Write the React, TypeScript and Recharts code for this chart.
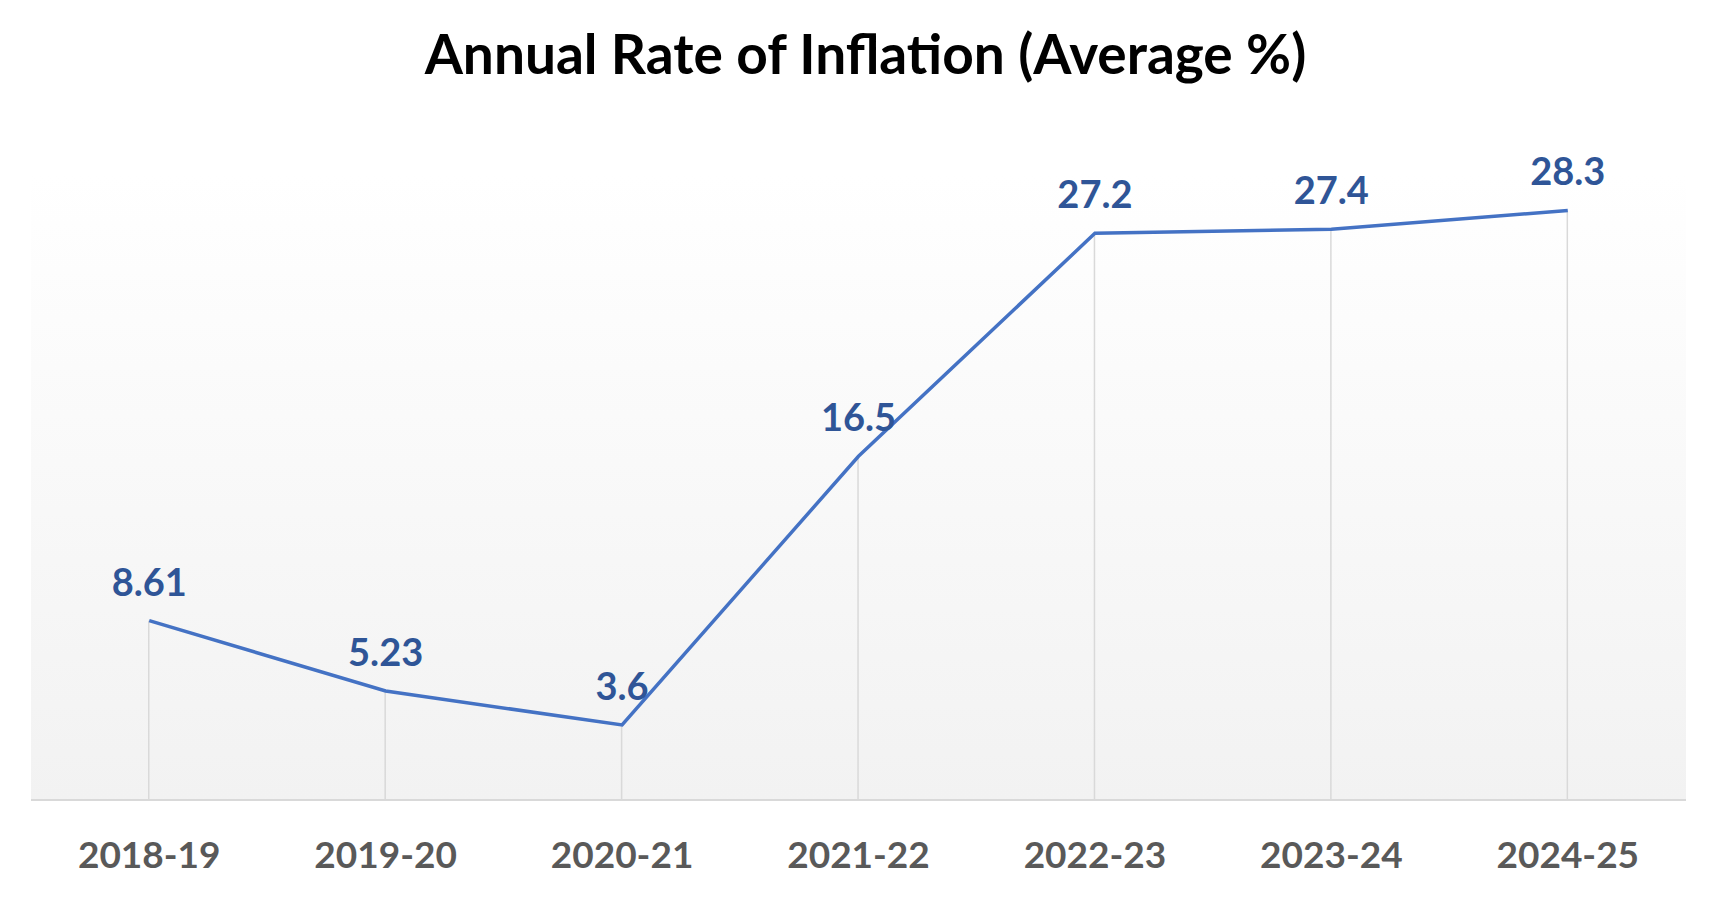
import React from 'react';
import { ComposedChart, Line, Bar, XAxis, YAxis, CartesianGrid, LabelList } from 'recharts';

const years = ['2018-19', '2019-20', '2020-21', '2021-22', '2022-23', '2023-24', '2024-25'];
const inflation = [8.61, 5.23, 3.6, 16.5, 27.2, 27.4, 28.3];

const data = years.map((year, i) => ({ year, value: inflation[i] }));

const FONT = 'Lato, "Noto Sans", sans-serif';

const App: React.FC = () => {
  return (
    <div style={{ position: 'absolute', left: 0, top: 0, width: 1731, height: 921, background: '#fff' }}>
      <div
        style={{
          position: 'absolute',
          left: 0,
          top: 0,
          width: 1731,
          textAlign: 'center',
          fontFamily: FONT,
          fontWeight: 700,
          fontSize: 55,
          lineHeight: '106px',
          color: '#000',
        }}
      >
        Annual Rate of Inflation (Average %)
      </div>
      <ComposedChart
        width={1731}
        height={921}
        data={data}
        margin={{ top: 175, right: 45, bottom: 61, left: 31 }}
      >
        <defs>
          <linearGradient id="plotBg" x1="0" y1="0" x2="0" y2="1">
            <stop offset="0%" stopColor="#ffffff" />
            <stop offset="100%" stopColor="#f2f2f2" />
          </linearGradient>
        </defs>
        <CartesianGrid horizontal={false} vertical={false} fill="url(#plotBg)" />
        <XAxis
          dataKey="year"
          height={60}
          axisLine={{ stroke: '#d9d9d9', strokeWidth: 2 }}
          tickLine={false}
          tickSize={0}
          tickMargin={42}
          tick={{ fill: '#595959', fontFamily: FONT, fontWeight: 700, fontSize: 37 }}
        />
        <YAxis hide domain={[0, 30]} />
        <Bar dataKey="value" barSize={1.5} fill="#d9d9d9" isAnimationActive={false} />
        <Line
          type="linear"
          dataKey="value"
          stroke="#4472C4"
          strokeWidth={3.5}
          dot={false}
          activeDot={false}
          isAnimationActive={false}
        >
          <LabelList
            dataKey="value"
            position="top"
            offset={25}
            fill="#2F5597"
            fontFamily={FONT}
            fontWeight={700}
            fontSize={38}
          />
        </Line>
      </ComposedChart>
    </div>
  );
};

export default App;
